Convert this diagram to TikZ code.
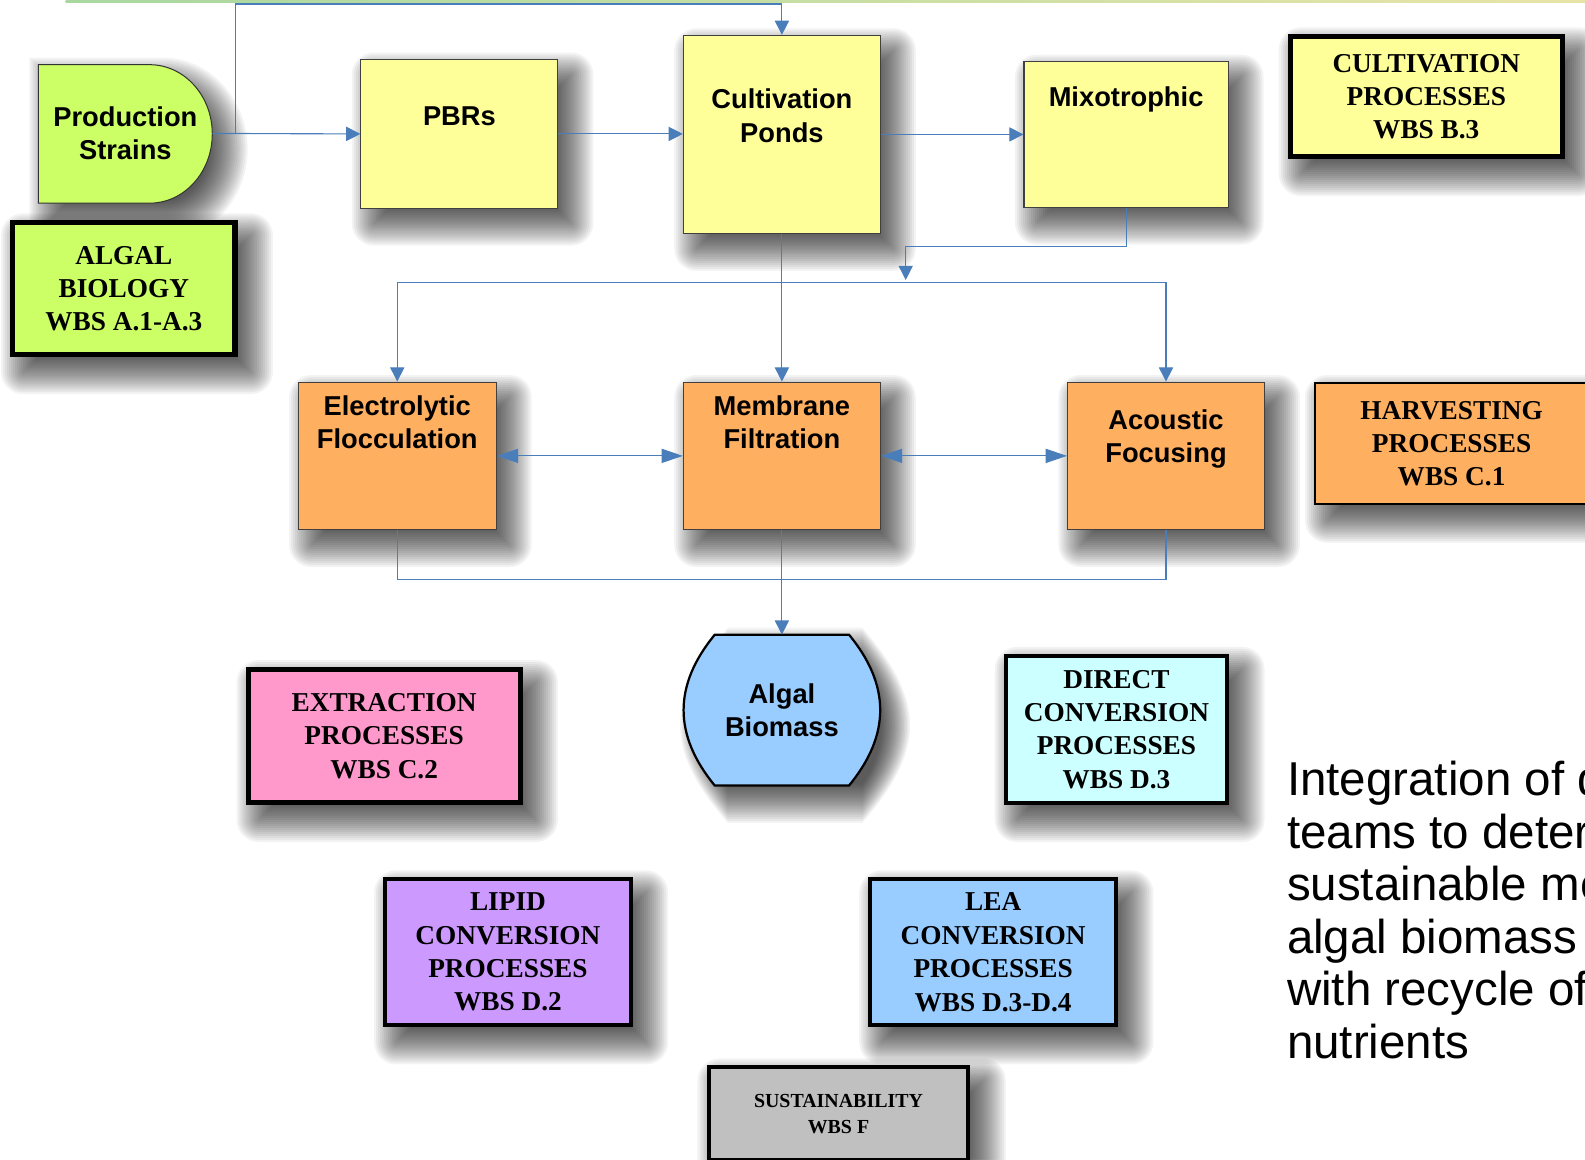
\documentclass[tikz,border=0pt]{standalone}
\usepackage{fontspec}
\setmainfont{Liberation Serif}
\newfontfamily\arialfont{Liberation Sans}
\usetikzlibrary{arrows.meta}

\definecolor{limefill}{HTML}{CCFF66}
\definecolor{paleyellow}{HTML}{FFFF99}
\definecolor{harvestorange}{HTML}{FFAF60}
\definecolor{pinkfill}{HTML}{FF99CC}
\definecolor{palecyan}{HTML}{CCFFFF}
\definecolor{lilac}{HTML}{CC99FF}
\definecolor{skyfill}{HTML}{99CCFF}
\definecolor{greyfill}{HTML}{C0C0C0}
\definecolor{linkblue}{HTML}{4A7EBB}
\definecolor{rulegreen}{HTML}{A8D8A0}
\definecolor{ruleyellow}{HTML}{E8E4A8}

% soft drop shadow built from nested translucent layers
\newcommand\shadowlayers[1]{%
  \foreach \k in {0,...,19}{%
    \pgfmathsetmacro\g{22-2*\k}%
    \pgfmathsetmacro\rc{max(\g,0.1)}%
    #1%
  }}
\newcommand\rectshadow[4]{%
  \shadowlayers{\fill[black,opacity=0.048,rounded corners=\rc pt]
    (#1+13-\g,#2+15-\g) rectangle (#3+13+\g,#4+15+\g);}}

\begin{document}
\begin{tikzpicture}[x=1pt,y=-1pt,
  flowbox/.style={draw=black!75,line width=1pt,inner sep=0pt},
  wbsbox/.style={draw=black,line width=5pt,inner sep=0pt,align=center,
      font=\fontsize{27}{33}\selectfont\bfseries},
  steplabel/.style={align=center,inner sep=0pt,
      font=\arialfont\fontsize{27}{33}\selectfont\bfseries},
  noteline/.style={anchor=base west,inner sep=0pt,
      font=\arialfont\fontsize{47}{52}\selectfont},
  linkline/.style={draw=linkblue,line width=1.1pt},
  conn/.style={linkline,-{Triangle[length=14pt,width=14pt]}},
  connboth/.style={linkline,{Triangle[length=14pt,width=14pt]}-{Triangle[length=14pt,width=14pt]}},
  connwide/.style={linkline,{Triangle[length=21pt,width=14pt]}-{Triangle[length=21pt,width=14pt]}},
]
\path[use as bounding box] (0,0) rectangle (1568,1147);
\clip (0,0) rectangle (1568,1147);
\fill[white] (0,0) rectangle (1568,1147);

% thin rule along the top edge
\shade[left color=rulegreen,right color=ruleyellow] (65,0) rectangle (1568,2.5);

% ---- shadows, under everything else ----
\shadowlayers{\fill[black,opacity=0.048]
  (51-\g,79-\g) -- (161,79-\g) arc[start angle=-90,end angle=90,x radius=62+\g,y radius=68.5+\g]
  -- (51-\g,216+\g) -- cycle;}
\shadowlayers{\fill[black,opacity=0.048]
  (720,643-\g) -- (853,643-\g) .. controls (894+\g,693) and (894+\g,742) .. (853,792+\g)
  -- (720,792+\g) .. controls (679-\g,742) and (679-\g,693) .. (720,643-\g) -- cycle;}
\rectshadow{357}{59}{552}{206}
\rectshadow{676}{35}{871}{231}
\rectshadow{1013}{61}{1215}{205}
\rectshadow{1274}{34}{1548}{157}
\rectshadow{10}{218}{235}{353}
\rectshadow{295}{378}{491}{524}
\rectshadow{676}{378}{871}{524}
\rectshadow{1056}{378}{1251}{524}
\rectshadow{1300}{378}{1572}{500}
\rectshadow{243}{660}{517}{796}
\rectshadow{993}{647}{1216}{796}
\rectshadow{379}{868}{626}{1016}
\rectshadow{859}{868}{1106}{1016}
\rectshadow{699}{1054}{960}{1150}

% ---- production strains (delay shape) ----
\path[draw=black!80,line width=1pt,fill=limefill]
  (38,64) -- (148,64) arc[start angle=-90,end angle=90,x radius=62,y radius=68.5]
  -- (38,201) -- cycle;
\node[steplabel,minimum width=172pt,minimum height=137pt] (ps) at (124,132)
  {Production\\Strains};

% ---- cultivation row ----
\node[flowbox,fill=paleyellow,minimum width=195pt,minimum height=147pt] (pbr) at (454.5,132.5) {};
\node[steplabel] (pbr-t) at (454.5,115) {PBRs};
\node[flowbox,fill=paleyellow,minimum width=195pt,minimum height=196pt] (cp) at (773.5,133) {};
\node[steplabel] (cp-t) at (773.5,114.5) {Cultivation\\Ponds};
\node[flowbox,fill=paleyellow,minimum width=202pt,minimum height=144pt] (mix) at (1114,133) {};
\node[steplabel] (mix-t) at (1114,98) {Mixotrophic};

% ---- harvesting row ----
\node[flowbox,fill=harvestorange,minimum width=196pt,minimum height=146pt] (ef) at (393,451) {};
\node[steplabel] (ef-t) at (393,417.5) {Electrolytic\\Flocculation};
\node[flowbox,fill=harvestorange,minimum width=195pt,minimum height=146pt] (mf) at (773.5,451) {};
\node[steplabel] (mf-t) at (773.5,417.5) {Membrane\\Filtration};
\node[flowbox,fill=harvestorange,minimum width=195pt,minimum height=146pt] (af) at (1153.5,451) {};
\node[steplabel] (af-t) at (1153.5,434.5) {Acoustic\\Focusing};

% ---- algal biomass (bulged sides) ----
\path[draw=black,line width=2.2pt,fill=skyfill]
  (707,628) -- (840,628) .. controls (881,678) and (881,727) .. (840,777)
  -- (707,777) .. controls (666,727) and (666,678) .. (707,628) -- cycle;
\node[steplabel,minimum width=195pt,minimum height=149pt] (bio) at (773.5,702.5)
  {Algal\\Biomass};

% ---- WBS boxes ----
\node[wbsbox,fill=limefill,minimum width=220pt,minimum height=130pt] (algbio) at (122.5,285.5)
  {ALGAL\\BIOLOGY\\WBS A.1-A.3};
\node[wbsbox,fill=paleyellow,minimum width=269pt,minimum height=118pt] (cultproc) at (1411,95.5)
  {CULTIVATION\\PROCESSES\\WBS B.3};
\node[wbsbox,line width=2pt,fill=harvestorange,minimum width=270pt,minimum height=120pt] (harvproc) at (1436,439)
  {HARVESTING\\PROCESSES\\WBS C.1};
\node[wbsbox,fill=pinkfill,minimum width=269pt,minimum height=131pt] (extrproc) at (380,728)
  {EXTRACTION\\PROCESSES\\WBS C.2};
\node[wbsbox,line width=4pt,fill=palecyan,minimum width=219pt,minimum height=145pt] (dirproc) at (1104.5,721.5)
  {DIRECT\\CONVERSION\\PROCESSES\\WBS D.3};
\node[wbsbox,line width=4pt,fill=lilac,minimum width=243pt,minimum height=144pt] (lipproc) at (502.5,942)
  {LIPID\\CONVERSION\\PROCESSES\\WBS D.2};
\node[wbsbox,line width=4pt,fill=skyfill,minimum width=243pt,minimum height=144pt] (leaproc) at (982.5,942)
  {LEA\\CONVERSION\\PROCESSES\\WBS D.3-D.4};
\node[wbsbox,line width=4pt,fill=greyfill,minimum width=257pt,minimum height=92pt,
      font=\fontsize{19.7}{25}\selectfont\bfseries] (sust) at (829.5,1102)
  {SUSTAINABILITY\\WBS F};

% ---- connectors ----
\coordinate (split) at (233,132.5);
\coordinate (toprun) at (233,4);
\coordinate (mixdrop) at (896,277);
\draw[conn] (ps.east) -- (pbr.west);
\draw[conn] (split) -- (toprun) -| (cp.north);
\draw[conn] (pbr.east) -- (pbr.east -| cp.west);
\draw[conn] (cp.east) -- (cp.east -| mix.west);
\draw[conn] (mix.south) -- ++(0,38) -| (mixdrop);
\draw[conn] (cp.south) -- (mf.north);
\draw[connboth] (ef.north) -- ++(0,-98) -| (af.north);
\draw[connwide] (ef.east) -- (mf.west);
\draw[connwide] (mf.east) -- (af.west);
\draw[linkline] (ef.south) -- ++(0,49) -| (af.south);
\draw[conn] (mf.south) -- (bio.north);

% ---- side note ----
\node[noteline] (note1) at (1273,787) {Integration of d};
\node[noteline] (note2) at (1273,839) {teams to deter};
\node[noteline] (note3) at (1273,891) {sustainable me};
\node[noteline] (note4) at (1273,943) {algal biomass};
\node[noteline] (note5) at (1273,995) {with recycle of};
\node[noteline] (note6) at (1273,1047) {nutrients};
\end{tikzpicture}
\end{document}
